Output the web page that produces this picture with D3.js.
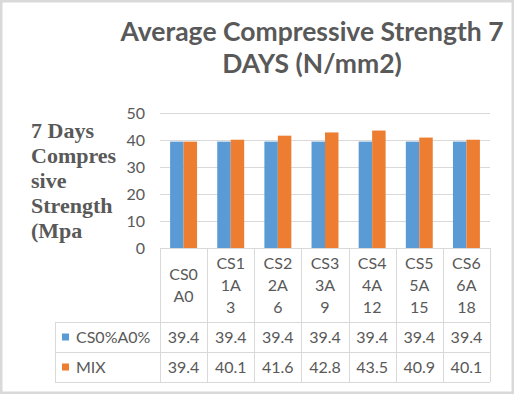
<!DOCTYPE html>
<html>
<head>
<meta charset="utf-8">
<script src="https://cdn.jsdelivr.net/npm/d3@7"></script>
<style>
  html, body { margin: 0; padding: 0; background: #fff; }
  svg { display: block; }
</style>
</head>
<body>
<div id="chart"></div>
<script>
// ---- data ----
var categories = [
	["CS0", "A0"],
	["CS1", "1A", "3"],
	["CS2", "2A", "6"],
	["CS3", "3A", "9"],
	["CS4", "4A", "12"],
	["CS5", "5A", "15"],
	["CS6", "6A", "18"]
];
var seriesNames = ["CS0%A0%", "MIX"];
var controlValues = [39.4, 39.4, 39.4, 39.4, 39.4, 39.4, 39.4];
var mixValues = [39.4, 40.1, 41.6, 42.8, 43.5, 40.9, 40.1];
var yTicks = [0, 10, 20, 30, 40, 50];
var titleLines = ["Average Compressive Strength 7", "DAYS (N/mm2)"];
var yTitleLines = ["7 Days", "Compres", "sive", "Strength", "(Mpa"];

var colors = { "CS0%A0%": "#5b9bd5", "MIX": "#ed7d31" };
var seriesValues = { "CS0%A0%": controlValues, "MIX": mixValues };

var width = 514, height = 394;
var plot = { left: 160, right: 490, top: 113, bottom: 248 };
var table = { left: 55, headerBottom: 322, rowH: 30 };
var textColor = "#595959";
var lineColor = "#d9d9d9";
var sansFont = "Lato, 'Open Sans', sans-serif";

var svg = d3.select("#chart").append("svg")
	.attr("width", width)
	.attr("height", height);

// outer frame
svg.append("rect")
	.attr("x", 1.25).attr("y", 1.25)
	.attr("width", width - 2.5).attr("height", height - 2.5)
	.style("fill", "#fff")
	.style("stroke", lineColor)
	.style("stroke-width", 2.5);

// title
svg.append("g").selectAll("text").data(titleLines).enter()
	.append("text")
	.attr("x", 312)
	.attr("y", function(d, i) { return 41 + i * 32; })
	.style("text-anchor", "middle")
	.style("font-family", sansFont)
	.style("font-weight", "bold")
	.style("font-size", "26.5px")
	.style("fill", textColor)
	.text(function(d) { return d; });

// y axis title
svg.append("g").selectAll("text").data(yTitleLines).enter()
	.append("text")
	.attr("x", 31)
	.attr("y", function(d, i) { return 138 + i * 25; })
	.style("font-family", "'Liberation Serif', 'Times New Roman', serif")
	.style("font-weight", "bold")
	.style("font-size", "22px")
	.style("fill", textColor)
	.text(function(d) { return d; });

// scales
var x = d3.scaleBand()
	.domain(d3.range(categories.length))
	.range([plot.left, plot.right])
	.paddingInner(0).paddingOuter(0);

var xInner = d3.scaleBand()
	.domain(seriesNames)
	.range([0, x.bandwidth()])
	.paddingInner(0).paddingOuter(0.75);

var y = d3.scaleLinear()
	.domain([0, 50])
	.range([plot.bottom, plot.top]);

// gridlines + tick labels
var yAxis = svg.append("g")
	.attr("transform", "translate(" + plot.left + ",0)")
	.call(d3.axisLeft(y).tickValues(yTicks).tickSize(-(plot.right - plot.left)).tickPadding(15));
yAxis.select(".domain").remove();
yAxis.selectAll(".tick line")
	.style("stroke", lineColor)
	.style("stroke-width", 1);
yAxis.selectAll(".tick text")
	.style("font-family", sansFont)
	.style("font-size", "16px")
	.style("fill", textColor);

// bars
var groups = svg.append("g").selectAll("g").data(categories).enter()
	.append("g")
	.attr("transform", function(d, i) { return "translate(" + x(i) + ",0)"; });

groups.selectAll("rect")
	.data(function(d, i) {
		return seriesNames.map(function(s) { return { series: s, value: seriesValues[s][i] }; });
	})
	.enter()
	.append("rect")
	.attr("x", function(d) { return xInner(d.series); })
	.attr("y", function(d) { return y(d.value); })
	.attr("width", xInner.bandwidth())
	.attr("height", function(d) { return y(0) - y(d.value); })
	.style("fill", function(d) { return colors[d.series]; });

// data table
var tableBottom = table.headerBottom + table.rowH * seriesNames.length;
var tg = svg.append("g");

// axis line / header top
tg.append("line")
	.attr("x1", plot.left).attr("x2", plot.right)
	.attr("y1", plot.bottom + 0.5).attr("y2", plot.bottom + 0.5)
	.style("stroke", lineColor);

// row lines
d3.range(seriesNames.length + 1).forEach(function(r) {
	var yy = table.headerBottom + r * table.rowH + 0.5;
	tg.append("line")
		.attr("x1", table.left).attr("x2", plot.right)
		.attr("y1", yy).attr("y2", yy)
		.style("stroke", lineColor);
});

// column lines
var colEdges = d3.range(categories.length).map(function(i) { return x(i); }).concat([plot.right]);
colEdges.forEach(function(cx) {
	tg.append("line")
		.attr("x1", Math.round(cx) + 0.5).attr("x2", Math.round(cx) + 0.5)
		.attr("y1", plot.bottom).attr("y2", tableBottom)
		.style("stroke", lineColor);
});
tg.append("line")
	.attr("x1", table.left + 0.5).attr("x2", table.left + 0.5)
	.attr("y1", table.headerBottom).attr("y2", tableBottom)
	.style("stroke", lineColor);

// category labels
var lineH = 22;
var headerMid = (plot.bottom + table.headerBottom) / 2;
categories.forEach(function(lines, i) {
	var y0 = headerMid - (lines.length - 1) * lineH / 2;
	tg.append("g").selectAll("text").data(lines).enter()
		.append("text")
		.attr("x", x(i) + x.bandwidth() / 2)
		.attr("y", function(d, j) { return y0 + j * lineH; })
		.attr("dy", "0.35em")
		.style("text-anchor", "middle")
		.style("font-family", sansFont)
		.style("font-size", "16px")
		.style("fill", textColor)
		.text(function(d) { return d; });
});

// series rows
seriesNames.forEach(function(s, r) {
	var cy = table.headerBottom + r * table.rowH + table.rowH / 2;
	tg.append("rect")
		.attr("x", 62).attr("y", cy - 3.5)
		.attr("width", 7).attr("height", 7)
		.style("fill", colors[s]);
	tg.append("text")
		.attr("x", 76).attr("y", cy)
		.attr("dy", "0.35em")
		.style("font-family", sansFont)
		.style("font-size", "16px")
		.style("fill", textColor)
		.text(s);
	tg.append("g").selectAll("text").data(seriesValues[s]).enter()
		.append("text")
		.attr("x", function(d, i) { return x(i) + x.bandwidth() / 2; })
		.attr("y", cy)
		.attr("dy", "0.35em")
		.style("text-anchor", "middle")
		.style("font-family", sansFont)
		.style("font-size", "16px")
		.style("fill", textColor)
		.text(function(d) { return d.toFixed(1); });
});
</script>
</body>
</html>
